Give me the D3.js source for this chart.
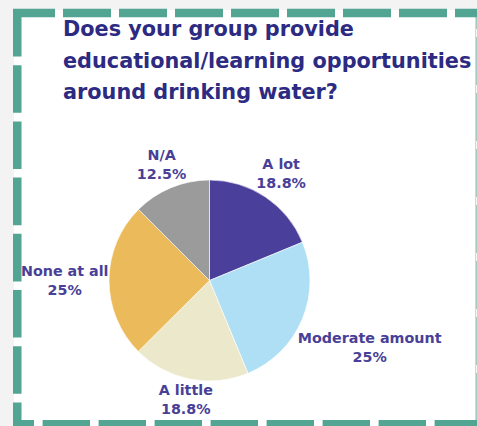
<!DOCTYPE html>
<html>
<head>
<meta charset="utf-8">
<script src="https://cdn.jsdelivr.net/npm/d3@7"></script>
<style>
  html, body { margin: 0; padding: 0; background: #f3f3f3; }
  svg { display: block; }
</style>
</head>
<body>
<svg id="chart" width="477" height="426"></svg>
<script>
// Survey answers and their shares (percent of respondents)
const categories = ["A lot", "Moderate amount", "A little", "None at all", "N/A"];
const shares = [18.8, 25, 18.8, 25, 12.5];
const shareLabels = ["18.8%", "25%", "18.8%", "25%", "12.5%"];
const sliceColors = ["#4a3f9a", "#aedff4", "#ece8cb", "#ebbb5b", "#9b9b9b"];
const titleLines = [
  "Does your group provide",
  "educational/learning opportunities",
  "around drinking water?"
];

const W = 477, H = 426;
const svg = d3.select("#chart");

// page background and white card
svg.append("rect").attr("width", W).attr("height", H).attr("fill", "#f3f3f3");
svg.append("rect").attr("x", 14).attr("y", 10).attr("width", 461).attr("height", H)
  .attr("fill", "#ffffff");
svg.append("line").attr("x1", 475.5).attr("x2", 475.5).attr("y1", 10).attr("y2", H)
  .attr("stroke", "#d6d6d6").attr("stroke-width", 1);

// dashed teal frame, one side at a time
const frame = svg.append("g").attr("stroke", "#52a593").attr("stroke-width", 8.5).attr("fill", "none");
const sides = [
  { x1: 13, y1: 13, x2: 500, y2: 13, dash: "48 8", off: 6 },          // top
  { x1: 17.25, y1: 9, x2: 17.25, y2: 440, dash: "47.6 8.6", off: 0 }, // left
  { x1: 13, y1: 424.25, x2: 500, y2: 424.25, dash: "47.4 8.6", off: 26.4 }, // bottom
  { x1: 480.75, y1: 9, x2: 480.75, y2: 440, dash: "48 8", off: 28 }   // right
];
frame.selectAll("line").data(sides).join("line")
  .attr("x1", d => d.x1).attr("y1", d => d.y1)
  .attr("x2", d => d.x2).attr("y2", d => d.y2)
  .attr("stroke-dasharray", d => d.dash)
  .attr("stroke-dashoffset", d => d.off);

// title
svg.append("g")
  .attr("font-family", "DejaVu Sans, sans-serif")
  .attr("font-weight", "bold")
  .attr("font-size", 20.8)
  .attr("fill", "#2d2a82")
  .selectAll("text").data(titleLines).join("text")
  .attr("x", 63)
  .attr("y", (d, i) => 36 + i * 31.5)
  .text(d => d);

// pie
const cx = 209.5, cy = 280.5, r = 100.5;
const data = categories.map((c, i) => ({ name: c, value: shares[i], label: shareLabels[i], color: sliceColors[i] }));
const pie = d3.pie().sort(null).value(d => d.value);
const arcs = pie(data);
const arc = d3.arc().innerRadius(0).outerRadius(r);

const pieG = svg.append("g").attr("transform", `translate(${cx},${cy})`);
pieG.selectAll("path").data(arcs).join("path")
  .attr("d", arc)
  .attr("fill", d => d.data.color)
  .attr("stroke", "#ffffff")
  .attr("stroke-width", 0.6);

// labels sit just outside the rim, along each slice's middle angle
const labelR = r + 0.5;
const lineGap = 19;
const labelG = pieG.selectAll("g.lbl").data(arcs).join("g")
  .attr("class", "lbl")
  .attr("font-family", "DejaVu Sans, sans-serif")
  .attr("font-weight", "bold")
  .attr("font-size", 14.3)
  .attr("fill", "#4a3f97")
  .attr("text-anchor", "middle");

labelG.each(function(d) {
  const g = d3.select(this);
  g.append("text").attr("y", 0).text(d.data.name);
  g.append("text").attr("y", lineGap).text(d.data.label);
  const b = this.getBBox();
  const ox = b.x + b.width / 2, oy = b.y + b.height / 2;
  const a = (d.startAngle + d.endAngle) / 2;
  const ux = Math.sin(a), uy = -Math.cos(a);
  const gap = t => {
    const px = t * ux, py = t * uy;
    const dx = Math.max(Math.abs(px) - b.width / 2, 0);
    const dy = Math.max(Math.abs(py) - b.height / 2, 0);
    return Math.hypot(dx, dy);
  };
  let lo = 0, hi = 400;
  for (let k = 0; k < 60; k++) {
    const mid = (lo + hi) / 2;
    if (gap(mid) < labelR) lo = mid; else hi = mid;
  }
  const t = (lo + hi) / 2;
  g.attr("transform", `translate(${t * ux - ox},${t * uy - oy})`);
});
</script>
</body>
</html>
